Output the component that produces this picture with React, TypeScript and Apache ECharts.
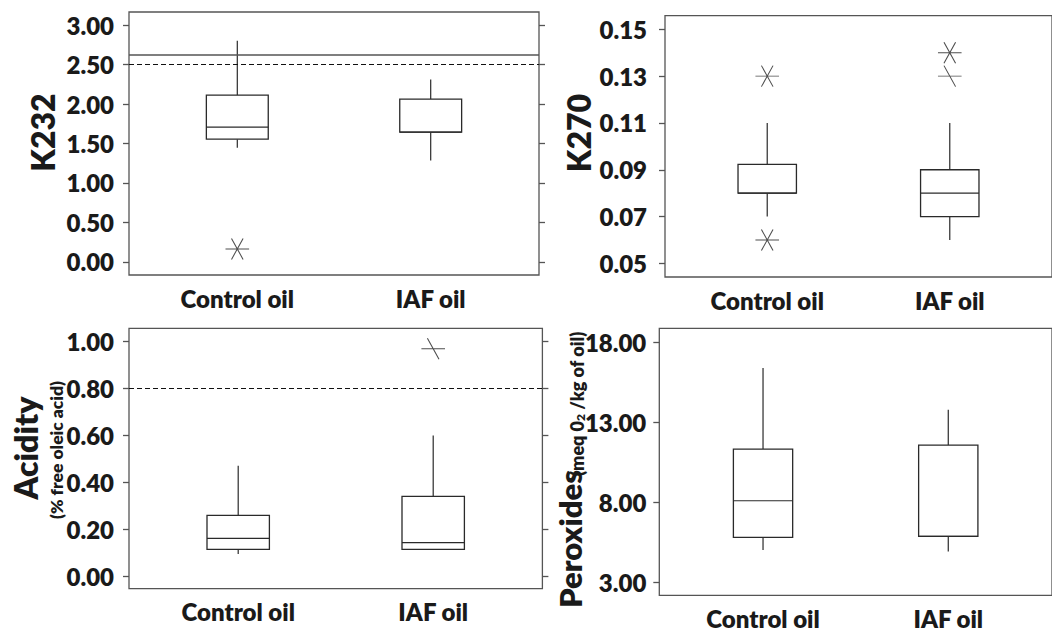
import React, { useEffect, useRef } from 'react';
import * as echarts from 'echarts';

// ---------- data ----------
const categories = ['Control oil', 'IAF oil'];

// box stats: [low whisker, Q1, median, Q3, high whisker]
const k232Box = [
  [1.445, 1.555, 1.707, 2.112, 2.8],
  [1.285, 1.643, 1.643, 2.061, 2.31],
];
const k232Ticks = [0, 0.5, 1, 1.5, 2, 2.5, 3];
const k232Stars = [[1, 0.165]];
const k232Halves: number[][] = [];
const k232SolidLimit = 2.62;
const k232DashLimit = 2.5;

const k270Box = [
  [0.07, 0.08, 0.08, 0.0923, 0.11],
  [0.06, 0.07, 0.08, 0.09, 0.11],
];
const k270Ticks = [0.05, 0.07, 0.09, 0.11, 0.13, 0.15];
const k270Stars = [[1, 0.13], [1, 0.06], [2, 0.14]];
const k270Halves = [[2, 0.13]];

const acidityBox = [
  [0.094, 0.114, 0.161, 0.259, 0.471],
  [0.114, 0.114, 0.143, 0.34, 0.6],
];
const acidityTicks = [0, 0.2, 0.4, 0.6, 0.8, 1.0];
const acidityStars: number[][] = [];
const acidityHalves = [[2, 0.97]];
const acidityDashLimit = 0.8;

const peroxBox = [
  [5.02, 5.81, 8.1, 11.33, 16.4],
  [4.92, 5.875, 5.875, 11.58, 13.79],
];
const peroxTicks = [3, 8, 13, 18];

// ---------- styles ----------
const FONT = 'Lato, "Open Sans", sans-serif';
const WEIGHT = 800;
const INK = '#1a1a1a';
const LINE = '#2a2a2a';
const FRAME = '#555555';
const STAR = 'path://M0 10.5 L23.6 10.5 M6 0 L17.6 21 M17.6 0 L6 21';
const HALF = 'path://M0 10.5 L23.6 10.5 M6 0 L17.6 21';

type Panel = {
  rect: { left: number; top: number; width: number; height: number };
  yMin: number;
  yMax: number;
  ticks: number[];
  box: number[][];
  stars: number[][];
  halves: number[][];
  lines: any[];
  rightAxis: boolean;
  labelMargin: number;
};

function buildOption(panels: Panel[]) {
  const grid: any[] = [];
  const xAxis: any[] = [];
  const yAxis: any[] = [];
  const series: any[] = [];

  panels.forEach((p, gi) => {
    grid.push({
      ...p.rect,
      show: true,
      borderColor: FRAME,
      borderWidth: 1.3,
      backgroundColor: 'transparent',
      containLabel: false,
    });
    xAxis.push({
      gridIndex: gi,
      type: 'value',
      min: 0.44,
      max: 2.56,
      axisLine: { show: false },
      axisTick: { show: false },
      splitLine: { show: false },
      axisLabel: {
        customValues: [1, 2],
        formatter: (v: number) => categories[Math.round(v) - 1] ?? '',
        fontFamily: FONT,
        fontWeight: WEIGHT,
        fontSize: 24,
        color: INK,
        margin: 11,
      },
    });
    const leftIndex = yAxis.length;
    const yBase = {
      gridIndex: gi,
      type: 'value',
      min: p.yMin,
      max: p.yMax,
      axisLine: { show: false },
      splitLine: { show: false },
      axisTick: {
        show: true,
        inside: false,
        length: 6,
        customValues: p.ticks,
        lineStyle: { color: FRAME, width: 1.3 },
      },
    };
    yAxis.push({
      ...yBase,
      position: 'left',
      axisLabel: {
        customValues: p.ticks,
        formatter: (v: number) => v.toFixed(2),
        fontFamily: FONT,
        fontWeight: WEIGHT,
        fontSize: 24,
        color: INK,
        margin: p.labelMargin,
      },
    });
    if (p.rightAxis) {
      yAxis.push({ ...yBase, position: 'right', axisLabel: { show: false } });
    }

    series.push({
      type: 'custom',
      xAxisIndex: gi,
      yAxisIndex: leftIndex,
      silent: true,
      clip: false,
      data: p.box.map((b, i) => [i + 1, ...b]),
      encode: { x: 0, y: [1, 2, 3, 4, 5] },
      renderItem: (_params: any, api: any) => {
        const x = api.value(0);
        const cx = api.coord([x, api.value(1)])[0];
        const yLow = api.coord([x, api.value(1)])[1];
        const yQ1 = api.coord([x, api.value(2)])[1];
        const yMed = api.coord([x, api.value(3)])[1];
        const yQ3 = api.coord([x, api.value(4)])[1];
        const yHigh = api.coord([x, api.value(5)])[1];
        const half = api.size([0.32, 0])[0] / 2;
        const st = { stroke: LINE, lineWidth: 1.2, fill: 'none' };
        return {
          type: 'group',
          children: [
            { type: 'line', shape: { x1: cx, y1: yQ3, x2: cx, y2: yHigh }, style: st },
            { type: 'line', shape: { x1: cx, y1: yLow, x2: cx, y2: yQ1 }, style: st },
            {
              type: 'rect',
              shape: { x: cx - half, y: yQ3, width: half * 2, height: yQ1 - yQ3 },
              style: { stroke: LINE, lineWidth: 1.3, fill: '#ffffff' },
            },
            { type: 'line', shape: { x1: cx - half, y1: yMed, x2: cx + half, y2: yMed }, style: st },
          ],
        };
      },
    });

    series.push({
      type: 'scatter',
      xAxisIndex: gi,
      yAxisIndex: leftIndex,
      silent: true,
      symbolSize: [23.6, 21],
      itemStyle: { color: 'transparent', borderColor: '#222', borderWidth: 1 },
      data: [
        ...p.stars.map((s) => ({ value: s, symbol: STAR })),
        ...p.halves.map((s) => ({ value: s, symbol: HALF })),
      ],
      markLine: p.lines.length
        ? {
            silent: true,
            symbol: ['none', 'none'],
            label: { show: false },
            data: p.lines,
          }
        : undefined,
    });
  });

  const title = (text: string, x: number, y: number, size: number, align = 'center') => ({
    type: 'text',
    x,
    y,
    rotation: Math.PI / 2,
    style: {
      text,
      fontFamily: FONT,
      fontWeight: WEIGHT,
      fontSize: size,
      fill: INK,
      align,
      verticalAlign: 'middle',
    },
  });

  const graphic = [
    title('K232', 42, 132.5, 32),
    title('K270', 578, 133, 32),
    title('Acidity', 25, 448, 32),
    title('(% free oleic acid)', 56, 450, 17.5),
    title('Peroxides', 570, 608, 31, 'left'),
    {
      type: 'text',
      x: 577,
      y: 476,
      rotation: Math.PI / 2,
      style: {
        text: '{t|(meq 0}{s|2}{t| /kg of oil)}',
        align: 'left',
        verticalAlign: 'middle',
        fill: INK,
        rich: {
          t: { fontFamily: FONT, fontWeight: WEIGHT, fontSize: 18, fill: INK, verticalAlign: 'bottom' },
          s: { fontFamily: FONT, fontWeight: WEIGHT, fontSize: 12, fill: INK, verticalAlign: 'bottom' },
        },
      },
    },
  ];

  return { animation: false, backgroundColor: '#ffffff', grid, xAxis, yAxis, series, graphic };
}

export default function App() {
  const ref = useRef<HTMLDivElement>(null);
  useEffect(() => {
    if (!ref.current) return;
    const chart = echarts.init(ref.current, undefined, { renderer: 'svg' });
    const panels: Panel[] = [
      {
        rect: { left: 129, top: 12, width: 410, height: 263 },
        yMin: -0.165,
        yMax: 3.165,
        ticks: k232Ticks,
        box: k232Box,
        stars: k232Stars,
        halves: k232Halves,
        lines: [
          { yAxis: k232SolidLimit, lineStyle: { color: '#555', width: 1.5, type: 'solid' } },
          { yAxis: k232DashLimit, lineStyle: { color: '#111', width: 1, type: [5, 3] } },
        ],
        rightAxis: true,
        labelMargin: 15,
      },
      {
        rect: { left: 665, top: 15.7, width: 390, height: 261.3 },
        yMin: 0.0442,
        yMax: 0.1558,
        ticks: k270Ticks,
        box: k270Box,
        stars: k270Stars,
        halves: k270Halves,
        lines: [],
        rightAxis: false,
        labelMargin: 18,
      },
      {
        rect: { left: 129, top: 328.3, width: 413.4, height: 260.4 },
        yMin: -0.054,
        yMax: 1.057,
        ticks: acidityTicks,
        box: acidityBox,
        stars: acidityStars,
        halves: acidityHalves,
        lines: [{ yAxis: acidityDashLimit, lineStyle: { color: '#111', width: 1, type: [5, 3] } }],
        rightAxis: true,
        labelMargin: 15,
      },
      {
        rect: { left: 659.3, top: 328.3, width: 400, height: 267 },
        yMin: 2.19,
        yMax: 18.875,
        ticks: peroxTicks,
        box: peroxBox,
        stars: [],
        halves: [],
        lines: [],
        rightAxis: false,
        labelMargin: 13,
      },
    ];
    chart.setOption(buildOption(panels) as any);
    return () => chart.dispose();
  }, []);
  return (
    <div
      ref={ref}
      style={{ position: 'absolute', left: 0, top: 0, width: 1052, height: 632, background: '#fff' }}
    />
  );
}
